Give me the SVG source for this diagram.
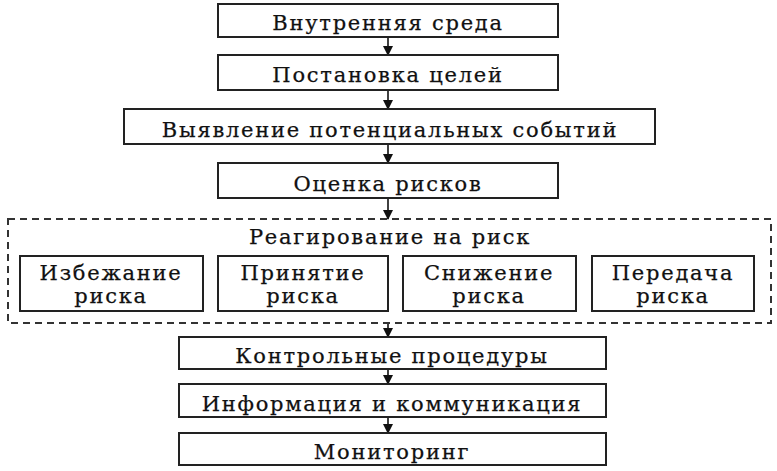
<svg xmlns="http://www.w3.org/2000/svg" width="777" height="471" viewBox="0 0 777 471">
<style>
.b{fill:#fff;stroke:#222;stroke-width:2}
.t{font-family:'DejaVu Serif','Liberation Serif',serif;font-size:21px;fill:#111;stroke:#111;stroke-width:0.25;text-anchor:middle;letter-spacing:1.75px}
.c{stroke:#111;stroke-width:1.6;fill:none;marker-end:url(#a)}
.d{fill:none;stroke:#333;stroke-width:2;stroke-dasharray:7,5}
</style>
<defs>
<marker id="a" markerWidth="10" markerHeight="10" refX="9" refY="5" orient="auto" markerUnits="userSpaceOnUse">
<path d="M0,0 L10,5 L0,10 Z" fill="#111"/>
</marker>
</defs>
<rect width="777" height="471" fill="#fff"/>
<g id="connectors">
<line class="c" x1="388" y1="37" x2="388" y2="55"/>
<line class="c" x1="388" y1="90" x2="388" y2="109"/>
<line class="c" x1="388" y1="144" x2="388" y2="163"/>
<line class="c" x1="388" y1="198" x2="388" y2="219"/>
<line class="c" x1="388" y1="323" x2="388" y2="337"/>
<line class="c" x1="388" y1="369" x2="388" y2="384"/>
<line class="c" x1="388" y1="417" x2="388" y2="433"/>
</g>
<g id="n1"><rect class="b" x="218" y="4" width="340" height="33"/><text class="t" x="388" y="30">Внутренняя среда</text></g>
<g id="n2"><rect class="b" x="218" y="55" width="340" height="35"/><text class="t" x="388" y="82">Постановка целей</text></g>
<g id="n3"><rect class="b" x="124" y="109" width="531" height="35"/><text class="t" x="390" y="137">Выявление потенциальных событий</text></g>
<g id="n4"><rect class="b" x="218" y="163" width="340" height="35"/><text class="t" x="388" y="191">Оценка рисков</text></g>
<g id="group"><rect class="d" x="8" y="219" width="763" height="104"/><text class="t" x="390" y="244">Реагирование на риск</text></g>
<g id="n5"><rect class="b" x="20" y="256" width="183" height="55"/><text class="t" x="111" y="280">Избежание</text><text class="t" x="111" y="303">риска</text></g>
<g id="n6"><rect class="b" x="218" y="256" width="170" height="55"/><text class="t" x="303" y="280">Принятие</text><text class="t" x="303" y="303">риска</text></g>
<g id="n7"><rect class="b" x="403" y="256" width="173" height="55"/><text class="t" x="489" y="280">Снижение</text><text class="t" x="489" y="303">риска</text></g>
<g id="n8"><rect class="b" x="592" y="256" width="162" height="55"/><text class="t" x="673" y="280">Передача</text><text class="t" x="673" y="303">риска</text></g>
<g id="n9"><rect class="b" x="179" y="337" width="427" height="32"/><text class="t" x="392" y="363">Контрольные процедуры</text></g>
<g id="n10"><rect class="b" x="179" y="384" width="427" height="33"/><text class="t" x="392" y="411">Информация и коммуникация</text></g>
<g id="n11"><rect class="b" x="179" y="433" width="427" height="32"/><text class="t" x="392" y="459">Мониторинг</text></g>
</svg>
